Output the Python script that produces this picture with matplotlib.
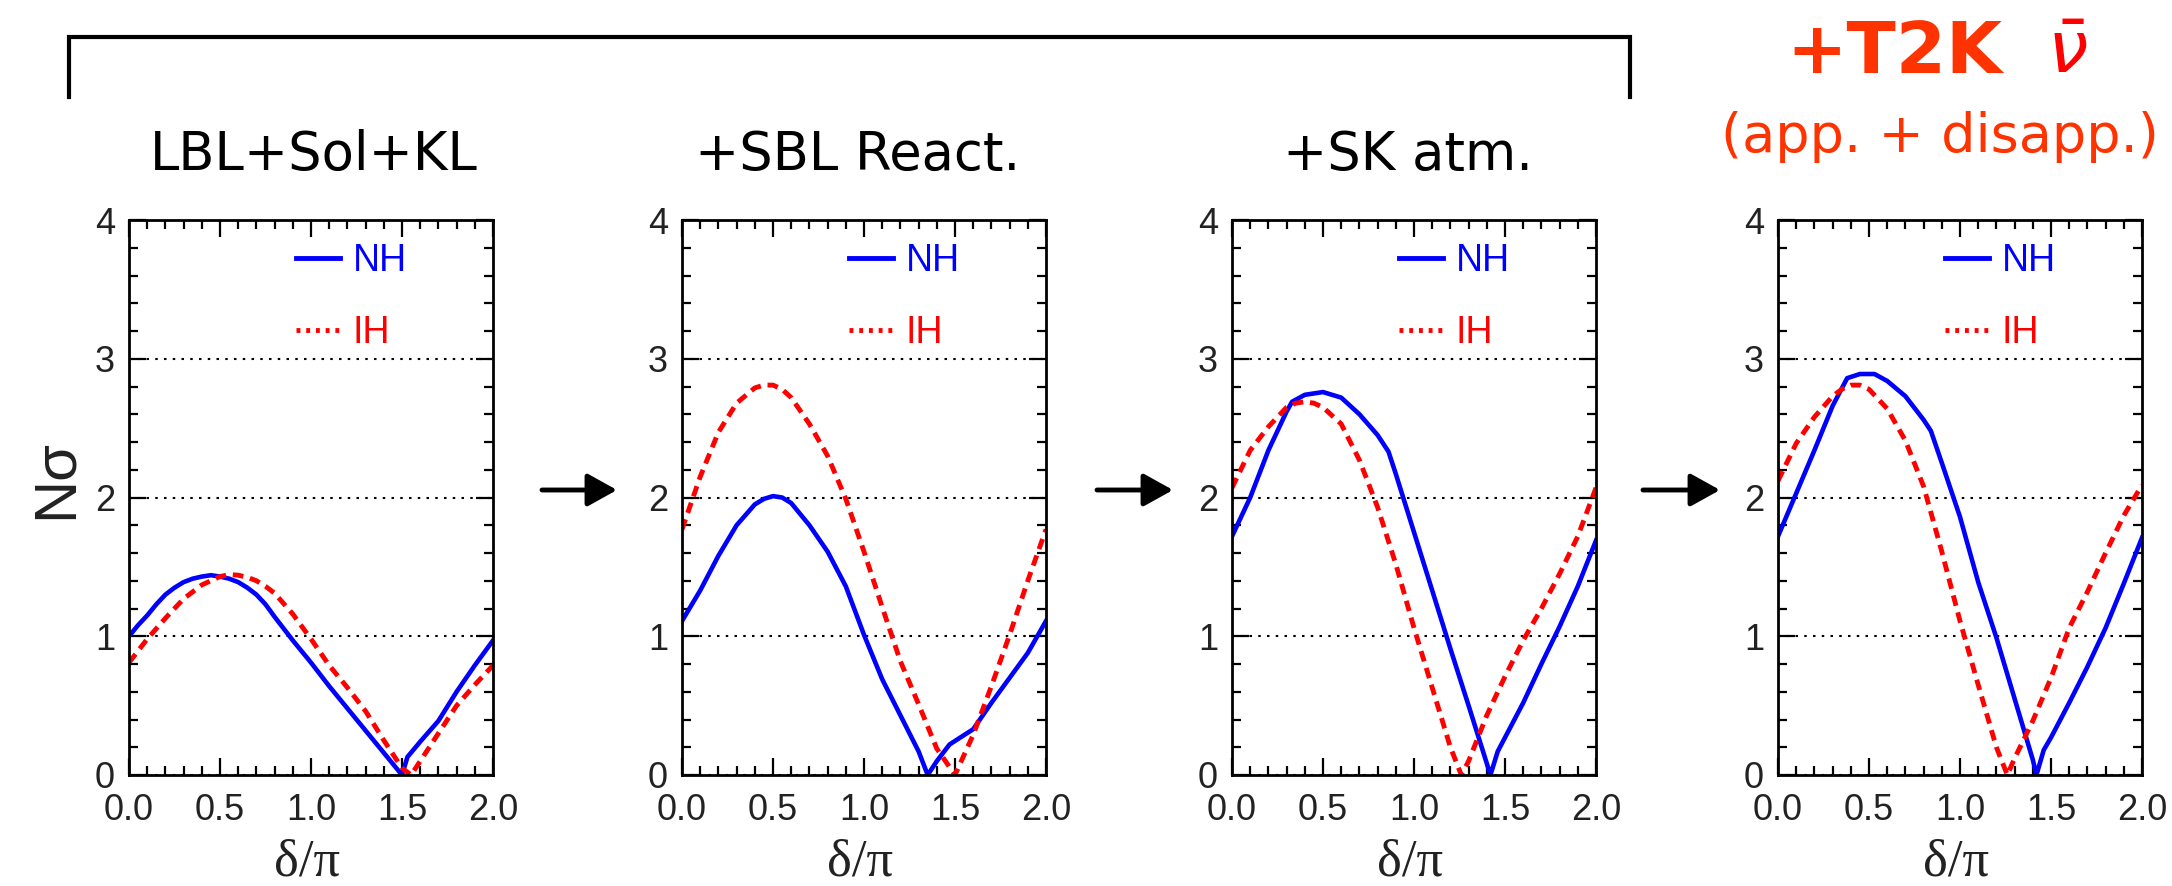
import matplotlib
matplotlib.use('Agg')
import matplotlib.pyplot as plt
from matplotlib.lines import Line2D
from matplotlib.ticker import MultipleLocator, FormatStrFormatter

plt.rcParams['font.family'] = ['Liberation Sans', 'DejaVu Sans']

# N sigma vs delta/pi
x_nh1 = [0.0, 0.05, 0.1, 0.15, 0.2, 0.25, 0.3, 0.35, 0.4, 0.45, 0.5, 0.55, 0.6, 0.65, 0.7, 0.75, 0.8, 0.9, 1.0,
         1.1, 1.2, 1.3, 1.4, 1.5, 1.53, 1.6, 1.7, 1.8, 1.9, 2.0]
nh1 = [1.00, 1.08, 1.15, 1.23, 1.30, 1.35, 1.39, 1.415, 1.43, 1.44, 1.43, 1.415, 1.39, 1.35, 1.30, 1.23, 1.14, 0.97, 0.81,
       0.64, 0.48, 0.32, 0.16, 0.00, 0.13, 0.24, 0.39, 0.60, 0.79, 0.97]
x_ih1 = [0.0, 0.1, 0.2, 0.3, 0.4, 0.5, 0.55, 0.6, 0.65, 0.7, 0.75, 0.8, 0.9, 1.0, 1.1, 1.2, 1.3, 1.4, 1.5, 1.55,
         1.6, 1.7, 1.8, 1.9, 2.0]
ih1 = [0.81, 0.98, 1.13, 1.27, 1.37, 1.43, 1.445, 1.44, 1.425, 1.40, 1.36, 1.31, 1.16, 0.98, 0.79, 0.63, 0.46, 0.25,
       0.05, 0.00, 0.10, 0.30, 0.50, 0.65, 0.79]

x_nh2 = [0.0, 0.1, 0.2, 0.3, 0.4, 0.45, 0.5, 0.55, 0.6, 0.7, 0.8, 0.9, 1.0, 1.1, 1.2, 1.3, 1.35, 1.4, 1.47,
         1.6, 1.7, 1.8, 1.9, 2.0]
nh2 = [1.11, 1.33, 1.58, 1.80, 1.95, 1.99, 2.01, 2.00, 1.96, 1.80, 1.61, 1.36, 1.01, 0.69, 0.43, 0.17, 0.00, 0.10,
       0.22, 0.33, 0.52, 0.70, 0.88, 1.11]
x_ih2 = [0.0, 0.1, 0.2, 0.3, 0.4, 0.45, 0.5, 0.55, 0.6, 0.7, 0.8, 0.9, 1.0, 1.1, 1.2, 1.3, 1.4, 1.5, 1.6, 1.7,
         1.8, 1.9, 2.0]
ih2 = [1.77, 2.15, 2.47, 2.68, 2.79, 2.81, 2.81, 2.78, 2.72, 2.53, 2.30, 1.99, 1.61, 1.21, 0.82, 0.51, 0.19, 0.00,
       0.29, 0.64, 1.01, 1.40, 1.77]

x_nh3 = [0.0, 0.1, 0.2, 0.3, 0.33, 0.4, 0.5, 0.6, 0.7, 0.8, 0.86, 0.9, 1.0, 1.1, 1.2, 1.3, 1.42, 1.46, 1.5,
         1.6, 1.7, 1.8, 1.9, 2.0]
nh3 = [1.72, 2.00, 2.34, 2.62, 2.69, 2.74, 2.76, 2.72, 2.60, 2.45, 2.33, 2.17, 1.75, 1.33, 0.91, 0.50, 0.00, 0.17,
       0.27, 0.52, 0.80, 1.07, 1.36, 1.69]
x_ih3 = [0.0, 0.1, 0.2, 0.3, 0.35, 0.4, 0.45, 0.5, 0.6, 0.7, 0.8, 0.9, 1.0, 1.1, 1.2, 1.26, 1.3, 1.4, 1.5, 1.6,
         1.7, 1.8, 1.9, 2.0]
ih3 = [2.07, 2.34, 2.51, 2.65, 2.68, 2.69, 2.68, 2.65, 2.53, 2.27, 1.93, 1.52, 1.06, 0.63, 0.20, 0.00, 0.10, 0.43,
       0.71, 0.97, 1.20, 1.45, 1.72, 2.07]

x_nh4 = [0.0, 0.1, 0.2, 0.3, 0.38, 0.45, 0.53, 0.6, 0.7, 0.8, 0.84, 0.9, 1.0, 1.1, 1.2, 1.3, 1.4, 1.42, 1.46,
         1.5, 1.6, 1.7, 1.8, 1.9, 2.0]
nh4 = [1.72, 2.03, 2.34, 2.66, 2.86, 2.89, 2.89, 2.84, 2.73, 2.56, 2.48, 2.25, 1.86, 1.39, 0.99, 0.55, 0.11, 0.00,
       0.18, 0.27, 0.52, 0.78, 1.06, 1.38, 1.71]
x_ih4 = [0.0, 0.1, 0.2, 0.3, 0.35, 0.4, 0.45, 0.5, 0.6, 0.7, 0.8, 0.9, 1.0, 1.1, 1.2, 1.26, 1.3, 1.4, 1.5, 1.6,
         1.7, 1.8, 1.9, 2.0]
ih4 = [2.12, 2.39, 2.58, 2.73, 2.78, 2.81, 2.81, 2.78, 2.64, 2.41, 2.08, 1.61, 1.11, 0.65, 0.20, 0.00, 0.12, 0.39,
       0.70, 1.06, 1.32, 1.60, 1.87, 2.09]

titles = ['LBL+Sol+KL', '+SBL React.', '+SK atm.']
legend_labels = ['NH', 'IH']

W, H = 2172, 886
fig = plt.figure(figsize=(W / 100, H / 100), dpi=100)

panels = [(x_nh1, nh1, x_ih1, ih1), (x_nh2, nh2, x_ih2, ih2),
          (x_nh3, nh3, x_ih3, ih3), (x_nh4, nh4, x_ih4, ih4)]
lefts = [129, 682, 1232, 1778]
blue, red = '#0000ff', '#ff0000'

for i, (xn, yn, xi, yi) in enumerate(panels):
    ax = fig.add_axes([lefts[i] / W, 1 - 775 / H, 364 / W, 555 / H])
    ax.plot(xn, yn, color=blue, lw=3.3)
    ax.plot(xi, yi, color=red, lw=3.5, dashes=(2.2, 1.4))
    ax.set_xlim(0, 2)
    ax.set_ylim(0, 4)
    ax.xaxis.set_major_locator(MultipleLocator(0.5))
    ax.xaxis.set_minor_locator(MultipleLocator(0.1))
    ax.xaxis.set_major_formatter(FormatStrFormatter('%.1f'))
    ax.yaxis.set_major_locator(MultipleLocator(1))
    ax.yaxis.set_minor_locator(MultipleLocator(0.2))
    ax.tick_params(which='both', direction='in', top=True, right=True,
                   labelsize=26, labelcolor='#222222', width=1.6)
    ax.tick_params(which='major', length=12.5)
    ax.tick_params(which='minor', length=6.5)
    ax.tick_params(axis='x', pad=13)
    ax.tick_params(axis='y', pad=10)
    ax.grid(axis='y', which='major', color='k', ls=(0, (1.2, 3.0)), lw=1.5)
    for sp in ax.spines.values():
        sp.set_linewidth(2)
    handles = [Line2D([], [], color=blue, lw=3.5), Line2D([], [], color=red, lw=3.5, ls=(0, (0.8, 1.2)))]
    ax.legend(handles, legend_labels, loc='upper left', bbox_to_anchor=(0.46, 0.958),
              frameon=False, fontsize=27, handlelength=1.15, handletextpad=0.35,
              labelspacing=0.95, borderpad=0, borderaxespad=0, labelcolor='linecolor')
    ax.set_xlabel('δ/π', fontsize=38, family=['Liberation Serif', 'DejaVu Serif'], color='#222222')
    ax.xaxis.set_label_coords(0.49, -0.115)
    if i == 0:
        ax.set_ylabel('Nσ', fontsize=43, color='#222222')
        ax.yaxis.set_label_coords(-0.125, 0.533)

# panel titles
title_x = [314, 858, 1408]
for t, x in zip(titles, title_x):
    fig.text(x / W, 1 - 170 / H, t, ha='center', va='baseline', fontsize=38,
             family=['DejaVu Sans'], color='black')
fig.text(1894 / W, 1 - 73 / H, '+T2K', ha='center', va='baseline', fontsize=52,
         family=['DejaVu Sans'], weight='bold', color='#ff3300')
fig.text(2067 / W, 1 - 73 / H, r'$\bar{\nu}$', ha='center', va='baseline', fontsize=52, color=red)
fig.text(1940 / W, 1 - 152 / H, '(app. + disapp.)', ha='center', va='baseline', fontsize=39,
         family=['DejaVu Sans'], color='#ff3300')

# bracket over the first three panels
bx0, bx1, by0, by1 = 69, 1630, 37, 97
fig.add_artist(Line2D([bx0 / W, bx0 / W, bx1 / W, bx1 / W], [1 - by1 / H, 1 - by0 / H, 1 - by0 / H, 1 - by1 / H],
                      transform=fig.transFigure, color='black', lw=3, solid_joinstyle='miter'))

# arrows between panels
for x0, x1 in [(542, 617), (1097, 1173), (1643, 1720)]:
    fig.add_artist(matplotlib.patches.FancyArrowPatch(
        (x0, H - 490), (x1, H - 490), transform=None,
        arrowstyle='-|>,head_length=0.9,head_width=0.5', mutation_scale=20,
        lw=3.5, color='black', shrinkA=0, shrinkB=0))

fig.savefig('out.png', dpi=100)
